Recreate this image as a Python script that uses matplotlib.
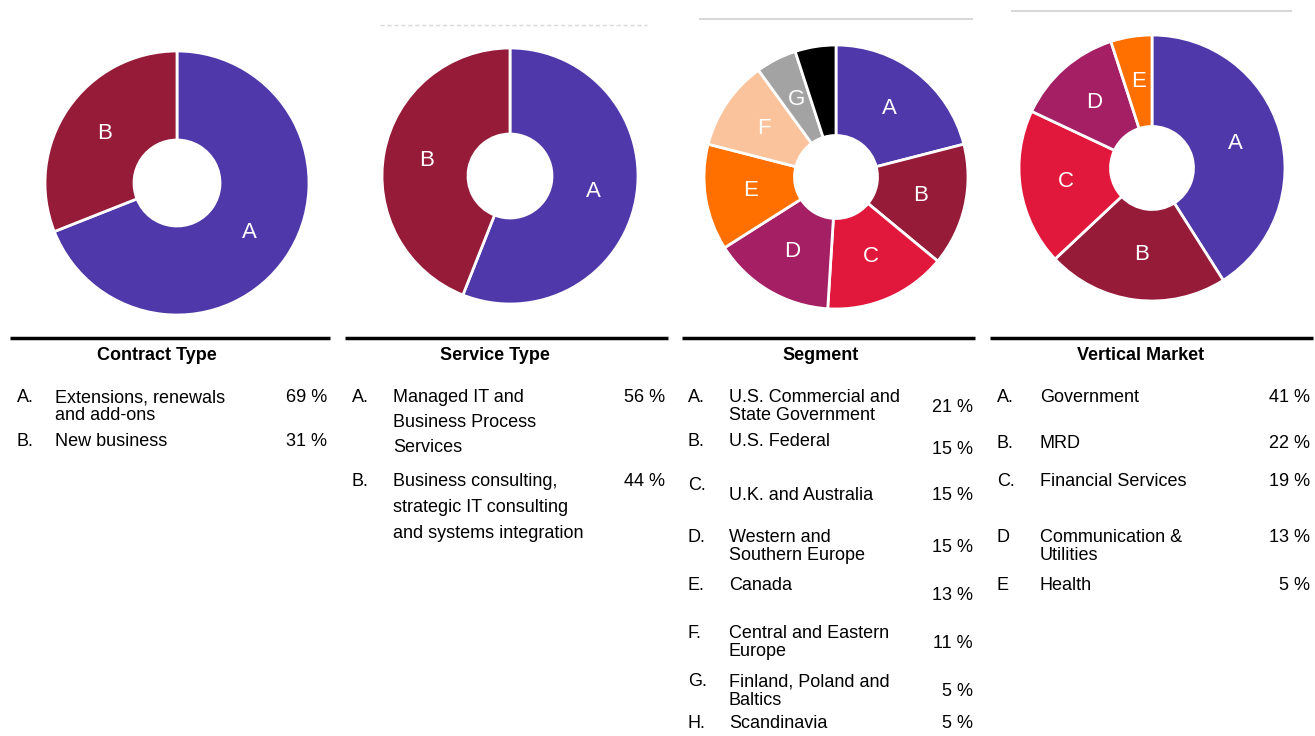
import numpy as np
import matplotlib.pyplot as plt

plt.rcParams["font.family"] = ["Liberation Sans", "DejaVu Sans"]

W, H = 1315, 736

# ---- data ----
contract_letters = ["A.", "B."]
contract_names = ["Extensions, renewals\nand add-ons", "New business"]
contract_pct = [69, 31]

service_letters = ["A.", "B."]
service_names = ["Managed IT and\nBusiness Process\nServices",
                 "Business consulting,\nstrategic IT consulting\nand systems integration"]
service_pct = [56, 44]

segment_letters = ["A.", "B.", "C.", "D.", "E.", "F.", "G.", "H."]
segment_names = ["U.S. Commercial and\nState Government", "U.S. Federal",
                 "U.K. and Australia", "Western and\nSouthern Europe", "Canada",
                 "Central and Eastern\nEurope", "Finland, Poland and\nBaltics",
                 "Scandinavia"]
segment_pct = [21, 15, 15, 15, 13, 11, 5, 5]

vertical_letters = ["A.", "B.", "C.", "D", "E"]
vertical_names = ["Government", "MRD", "Financial Services",
                  "Communication &\nUtilities", "Health"]
vertical_pct = [41, 22, 19, 13, 5]

titles = ["Contract Type", "Service Type", "Segment", "Vertical Market"]

# pie slice labels (H is left unlabelled in the segment pie)
contract_pie_labels = ["A", "B"]
service_pie_labels = ["A", "B"]
segment_pie_labels = ["A", "B", "C", "D", "E", "F", "G", ""]
vertical_pie_labels = ["A", "B", "C", "D", "E"]

# ---- styles ----
PURPLE, DRED, RED, MAG = "#4f38a9", "#961b38", "#e1173b", "#a51f64"
ORANGE, PEACH, GREY, BLACK = "#ff7000", "#fbc39c", "#a3a3a3", "#000000"
contract_colors = [PURPLE, DRED]
service_colors = [PURPLE, DRED]
segment_colors = [PURPLE, DRED, RED, MAG, ORANGE, PEACH, GREY, BLACK]
vertical_colors = [PURPLE, DRED, RED, MAG, ORANGE]

fig = plt.figure(figsize=(W / 100, H / 100), dpi=100)
bg = fig.add_axes([0, 0, 1, 1])
bg.set_xlim(0, W)
bg.set_ylim(H, 0)
bg.axis("off")


def donut(cx, cy, r, hole, vals, colors, labels):
    ax = fig.add_axes([(cx - r) / W, 1 - (cy + r) / H, 2 * r / W, 2 * r / H])
    wedges, _ = ax.pie(vals, colors=colors, startangle=90, counterclock=False,
                       radius=1.0,
                       wedgeprops=dict(width=1 - hole / r, edgecolor="white",
                                       linewidth=2))
    rl = (1 + hole / r) / 2
    for w, lab in zip(wedges, labels):
        a = np.deg2rad((w.theta1 + w.theta2) / 2)
        ax.text(rl * np.cos(a), rl * np.sin(a), lab, color="white",
                fontsize=16, ha="center", va="center")
    ax.set_xlim(-1, 1)
    ax.set_ylim(-1, 1)
    ax.set_aspect("auto")
    ax.axis("off")


donut(177, 183, 132, 43, contract_pct, contract_colors, contract_pie_labels)
donut(510, 176, 128, 42, service_pct, service_colors, service_pie_labels)
donut(836, 177, 132, 41.5, segment_pct, segment_colors, segment_pie_labels)
donut(1152, 168, 133, 41.5, vertical_pct, vertical_colors, vertical_pie_labels)

# thin grey rules above pies 2-4
bg.plot([380, 647], [25, 25], color="#d8d8d8", lw=1, ls=(0, (3, 2)))
bg.plot([700, 972], [19, 19], color="#d8d8d8", lw=1.5)
bg.plot([1012, 1291], [11, 11], color="#d8d8d8", lw=1.5)

# ---- tables ----
FS = 13
rules = [(10, 330), (345, 668), (682, 975), (990, 1313)]
title_x = [157, 495, 821, 1141]
for (x0, x1), tx, t in zip(rules, title_x, titles):
    bg.plot([x0, x1], [338, 338], color="black", lw=2.5, solid_capstyle="butt")
    bg.text(tx, 355, t, fontsize=FS, fontweight="bold", ha="center", va="center")


def table(letters, names, pcts, lx, tx, px, row_y, letter_y, pct_y, step):
    for let, name, p, ry, ly, py in zip(letters, names, pcts, row_y, letter_y, pct_y):
        bg.text(lx, ly, let, fontsize=FS, va="center")
        for i, line in enumerate(name.split("\n")):
            bg.text(tx, ry + i * step, line, fontsize=FS, va="center")
        bg.text(px, py, f"{p} %", fontsize=FS, va="center", ha="right")


table(contract_letters, contract_names, contract_pct, 17, 55, 327,
      [398, 442], [398, 442], [398, 442], 17)
table(service_letters, service_names, service_pct, 352, 393, 665,
      [397, 482], [397, 482], [397, 482], 25.5)
table(segment_letters, segment_names, segment_pct, 688, 729, 973,
      [397, 442, 495, 537, 585, 633, 682, 724],
      [397, 442, 485, 537, 585, 633, 682, 724],
      [407, 450, 495, 547, 596, 643, 692, 724], 18.5)
table(vertical_letters, vertical_names, vertical_pct, 997, 1040, 1310,
      [397, 443, 481, 537, 585], [397, 443, 481, 537, 585],
      [397, 443, 481, 537, 585], 18.5)

fig.savefig("out.png", dpi=100)
